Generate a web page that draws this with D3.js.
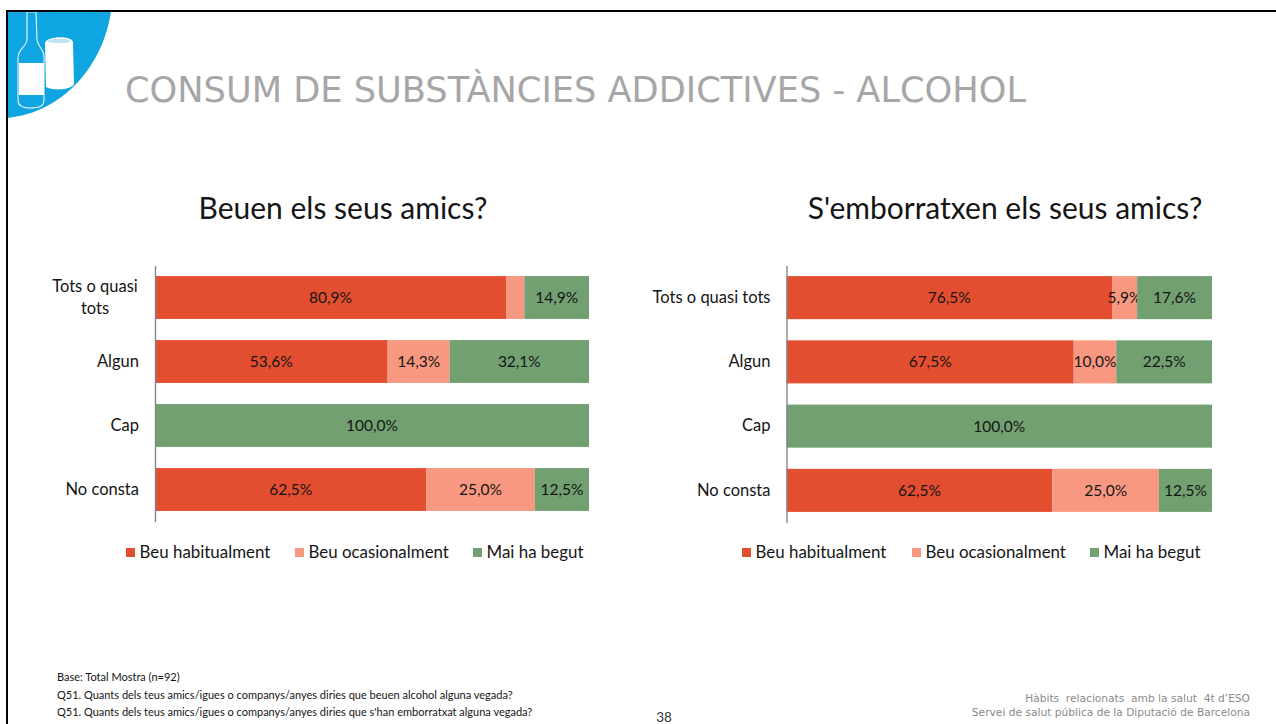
<!DOCTYPE html>
<html>
<head>
<meta charset="utf-8">
<script src="https://cdnjs.cloudflare.com/ajax/libs/d3/7.8.5/d3.min.js"></script>
<style>
  html, body { margin: 0; padding: 0; background: #fff; overflow: hidden; }
  svg { display: block; }
  text { font-family: Lato, "Open Sans", sans-serif; fill: #151515; }
</style>
</head>
<body>
<div id="chart"></div>
<script>
// Data
const seriesNames = ["Beu habitualment", "Beu ocasionalment", "Mai ha begut"];
const seriesColors = ["#e34e31", "#f99880", "#72a071"];

const leftCategories = ["Tots o quasi tots", "Algun", "Cap", "No consta"];
const leftHabitual = [80.9, 53.6, 0, 62.5];
const leftOcasional = [4.2, 14.3, 0, 25.0];
const leftMai = [14.9, 32.1, 100.0, 12.5];

const rightCategories = ["Tots o quasi tots", "Algun", "Cap", "No consta"];
const rightHabitual = [76.5, 67.5, 0, 62.5];
const rightOcasional = [5.9, 10.0, 0, 25.0];
const rightMai = [17.6, 22.5, 100.0, 12.5];

const footNotes = [
    "Base: Total Mostra (n=92)",
    "Q51. Quants dels teus amics/igues o companys/anyes diries que beuen alcohol alguna vegada?",
    "Q51. Quants dels teus amics/igues o companys/anyes diries que s'han emborratxat alguna vegada?"
];

const dejavu = '"DejaVu Sans", sans-serif';

const svg = d3.select("#chart").append("svg")
    .attr("width", 1276)
    .attr("height", 724);

// Slide frame and corner icon
const icon = svg.append("g");
icon.append("path")
    .attr("d", "M7,11 H111 C104,62 66,112 7,118 Z")
    .attr("fill", "#0ea5e0");
svg.append("path")
    .attr("d", "M7,724 V11 H1276")
    .attr("fill", "none")
    .attr("stroke", "#000")
    .attr("stroke-width", 2);
// bottle
icon.append("path")
    .attr("d", "M27,12 H36 L37,40 C38,47 44,49 44,57 V100 C44,106 40,108 30,108 C22,108 18,106 18,100 V58 C18,49 26,47 27,40 Z")
    .attr("fill", "none").attr("stroke", "#e8f6fc").attr("stroke-width", 1.1);
icon.append("rect").attr("x", 19).attr("y", 63).attr("width", 25).attr("height", 32).attr("fill", "#fff");
// can
icon.append("path")
    .attr("d", "M45,43 C46,36 72,35 73,42 L74,84 C72,90 52,91 46,87 Z")
    .attr("fill", "#fff");
icon.append("ellipse")
    .attr("cx", 59).attr("cy", 41).attr("rx", 12).attr("ry", 2.2)
    .attr("fill", "#bfe4f4");

svg.append("text")
    .attr("x", 125)
    .attr("y", 102)
    .attr("font-size", 35.2)
    .style("font-family", dejavu)
    .style("fill", "#a6a6a6")
    .text("CONSUM DE SUBSTÀNCIES ADDICTIVES - ALCOHOL");

function drawBars(opts) {
    const rows = opts.categories.map((c, i) => ({
        cat: c,
        [seriesNames[0]]: opts.values[0][i],
        [seriesNames[1]]: opts.values[1][i],
        [seriesNames[2]]: opts.values[2][i]
    }));

    const x = d3.scaleLinear().domain([0, 100]).range([opts.x0, opts.x1]);
    const y = d3.scaleBand().domain(opts.categories)
        .range([opts.y0, opts.y1]).paddingInner(0.33).paddingOuter(0.165);
    const color = d3.scaleOrdinal().domain(seriesNames).range(seriesColors);
    const stacked = d3.stack().keys(seriesNames)(rows);

    const g = svg.append("g");

    g.append("text")
        .attr("x", opts.titleX)
        .attr("y", 219)
        .attr("text-anchor", "middle")
        .attr("font-size", 30)
        .text(opts.title);

    const layers = g.selectAll(".layer")
        .data(stacked)
        .enter()
        .append("g")
        .attr("class", "layer");

    layers.selectAll("rect")
        .data(s => s.map(d => ({ s: s.key, d: d })))
        .enter()
        .append("rect")
        .attr("x", p => x(p.d[0]))
        .attr("y", p => y(p.d.data.cat))
        .attr("width", p => x(p.d[1]) - x(p.d[0]))
        .attr("height", y.bandwidth())
        .attr("fill", p => color(p.s));

    // small slices have no label in the original
    layers.selectAll("text")
        .data(s => s.map(d => ({ s: s.key, d: d })).filter(p => p.d[1] - p.d[0] >= opts.minLabel))
        .enter()
        .append("text")
        .attr("x", p => (x(p.d[0]) + x(p.d[1])) / 2)
        .attr("y", p => y(p.d.data.cat) + y.bandwidth() / 2)
        .attr("dy", "0.35em")
        .attr("text-anchor", "middle")
        .attr("font-size", 15.5)
        .text(p => (p.d[1] - p.d[0]).toFixed(1).replace(".", ",") + "%");

    // Category axis
    const axis = g.append("g")
        .attr("transform", "translate(" + opts.x0 + ",0)")
        .call(d3.axisLeft(y).tickSize(0).tickPadding(16));
    axis.select(".domain").attr("stroke", "#868686").attr("stroke-width", 1.4);
    axis.selectAll("text")
        .attr("font-size", 16.5)
        .style("font-family", "Lato, sans-serif")
        .each(function(d) {
            if (!opts.wrap || d !== "Tots o quasi tots") return;
            const t = d3.select(this).text(null).attr("text-anchor", "middle");
            t.append("tspan").attr("x", -60).attr("dy", "-0.32em").text("Tots o quasi");
            t.append("tspan").attr("x", -60).attr("dy", "1.32em").text("tots");
        });

    // Legend
    const legend = g.selectAll(".legend")
        .data(seriesNames)
        .enter()
        .append("g")
        .attr("class", "legend")
        .attr("transform", (d, i) => "translate(" + opts.legendX[i] + ",548)");
    legend.append("rect")
        .attr("width", 9)
        .attr("height", 9)
        .attr("fill", d => color(d));
    legend.append("text")
        .attr("x", 13.5)
        .attr("y", 10)
        .attr("font-size", 16.9)
        .text(d => d);
}

drawBars({
    title: "Beuen els seus amics?",
    titleX: 343,
    categories: leftCategories,
    values: [leftHabitual, leftOcasional, leftMai],
    x0: 155, x1: 589, y0: 265.5, y1: 521.5,
    minLabel: 5,
    wrap: true,
    legendX: [126, 295, 473]
});

drawBars({
    title: "S'emborratxen els seus amics?",
    titleX: 1005,
    categories: rightCategories,
    values: [rightHabitual, rightOcasional, rightMai],
    x0: 786.5, x1: 1212, y0: 265.5, y1: 522.5,
    minLabel: 5,
    wrap: false,
    legendX: [742, 912, 1090]
});

// Footer
svg.selectAll(".foot")
    .data(footNotes)
    .enter()
    .append("text")
    .attr("class", "foot")
    .attr("x", 57)
    .attr("y", (d, i) => 681 + i * 17.7)
    .attr("font-size", 11)
    .text(d => d);

svg.append("text")
    .attr("x", 664)
    .attr("y", 722)
    .attr("text-anchor", "middle")
    .attr("font-size", 13.5)
    .style("fill", "#333")
    .text("38");

svg.append("text")
    .attr("x", 1250)
    .attr("y", 702)
    .attr("text-anchor", "end")
    .attr("font-size", 10.65)
    .style("font-family", dejavu)
    .style("white-space", "pre")
    .style("fill", "#8a8a8a")
    .text("Hàbits  relacionats  amb la salut  4t d’ESO");

svg.append("text")
    .attr("x", 1250)
    .attr("y", 716)
    .attr("text-anchor", "end")
    .attr("font-size", 10.65)
    .style("font-family", dejavu)
    .style("fill", "#8a8a8a")
    .text("Servei de salut pública de la Diputació de Barcelona");
</script>
</body>
</html>
